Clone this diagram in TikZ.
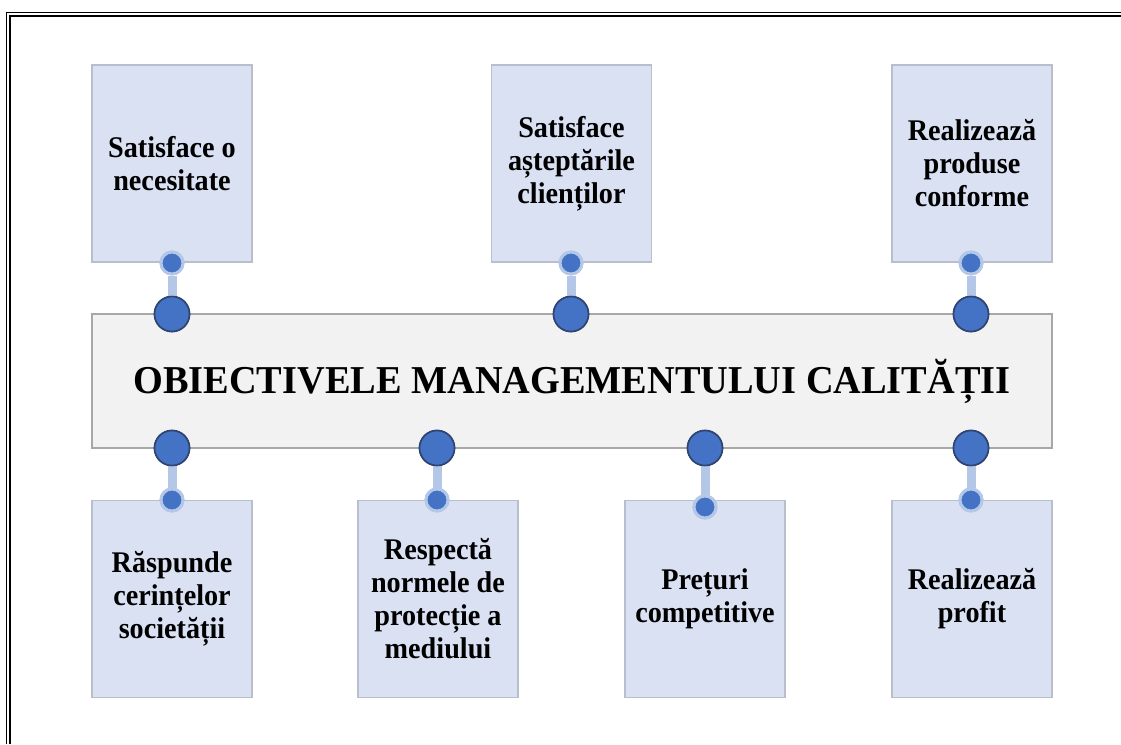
\documentclass[tikz,border=0pt]{standalone}
\usepackage{fontspec}
\setmainfont{Liberation Serif}
\newfontfamily\boxfont{Liberation Serif}[FakeStretch=0.94]
\newfontfamily\titlefont{Liberation Serif}[FakeStretch=0.97]
\begin{document}
\begin{tikzpicture}[x=1pt,y=-1pt,
  goalbox/.style={draw=boxedge,line width=1.2pt,fill=boxfill,minimum width=160pt,minimum height=197pt,
    inner sep=2pt,align=center,font=\boxfont\fontsize{30}{33}\selectfont\bfseries},
  mainbox/.style={draw=mainedge,line width=1.2pt,fill=mainfill,minimum width=960pt,minimum height=134pt,
    font=\titlefont\fontsize{39.5}{42}\selectfont\bfseries},
  bigdot/.style={circle,fill=dotblue,draw=dotedge,line width=1.6pt,minimum size=35pt,inner sep=0pt},
  smalldot/.style={circle,fill=dotblue,draw=halo,line width=3pt,minimum size=22pt,inner sep=0pt},
  link/.style={draw=halo,line width=9pt}]
\definecolor{boxfill}{HTML}{DAE1F2}
\definecolor{boxedge}{HTML}{B8BECB}
\definecolor{mainfill}{HTML}{F2F2F2}
\definecolor{mainedge}{HTML}{A8A8A8}
\definecolor{dotblue}{HTML}{4472C4}
\definecolor{dotedge}{HTML}{2F4470}
\definecolor{halo}{HTML}{B4C7E7}
\useasboundingbox (0,0) rectangle (1121,744);
% double frame on the top and left
\draw[line width=1.3pt] (6.5,744) -- (6.5,12.5) -- (1121,12.5);
\draw[line width=2pt] (10,744) -- (10,16) -- (1121,16);
% boxes
\node[mainbox] (main) at (572,381) {OBIECTIVELE MANAGEMENTULUI CALITĂȚII};
\node[goalbox] (t1) at (172,163.5) {Satisface o\\necesitate};
\node[goalbox] (t2) at (571.5,163.5) {Satisface\\așteptările\\clienților};
\node[goalbox] (t3) at (972,163.5) {Realizează\\produse\\conforme};
\node[goalbox] (b1) at (172,599) {Răspunde\\cerințelor\\societății};
\node[goalbox] (b2) at (438,599) {Respectă\\normele de\\protecție a\\mediului};
\node[goalbox] (b3) at (705,599) {Prețuri\\competitive};
\node[goalbox] (b4) at (972,599) {Realizează\\profit};
% connector dots
\node[smalldot] (st1) at (172,263) {};
\node[smalldot] (st2) at (571,263) {};
\node[smalldot] (st3) at (971,263) {};
\node[bigdot] (mt1) at (172,314) {};
\node[bigdot] (mt2) at (571,314) {};
\node[bigdot] (mt3) at (971,314) {};
\node[bigdot] (mb1) at (172,448) {};
\node[bigdot] (mb2) at (437,448) {};
\node[bigdot] (mb3) at (705,448) {};
\node[bigdot] (mb4) at (971,448) {};
\node[smalldot] (sb1) at (172,500) {};
\node[smalldot] (sb2) at (437,500) {};
\node[smalldot] (sb3) at (705,507) {};
\node[smalldot] (sb4) at (971,500) {};
% links between each pair of dots
\foreach \a/\b in {st1/mt1,st2/mt2,st3/mt3,mb1/sb1,mb2/sb2,mb3/sb3,mb4/sb4}
  \draw[link] (\a) -- (\b);
% redraw the dots above the links
\foreach \p in {{172,314},{571,314},{971,314},{172,448},{437,448},{705,448},{971,448}}
  \node[bigdot] at (\p) {};
\foreach \p in {{172,263},{571,263},{971,263},{172,500},{437,500},{705,507},{971,500}}
  \node[smalldot] at (\p) {};
\end{tikzpicture}
\end{document}
